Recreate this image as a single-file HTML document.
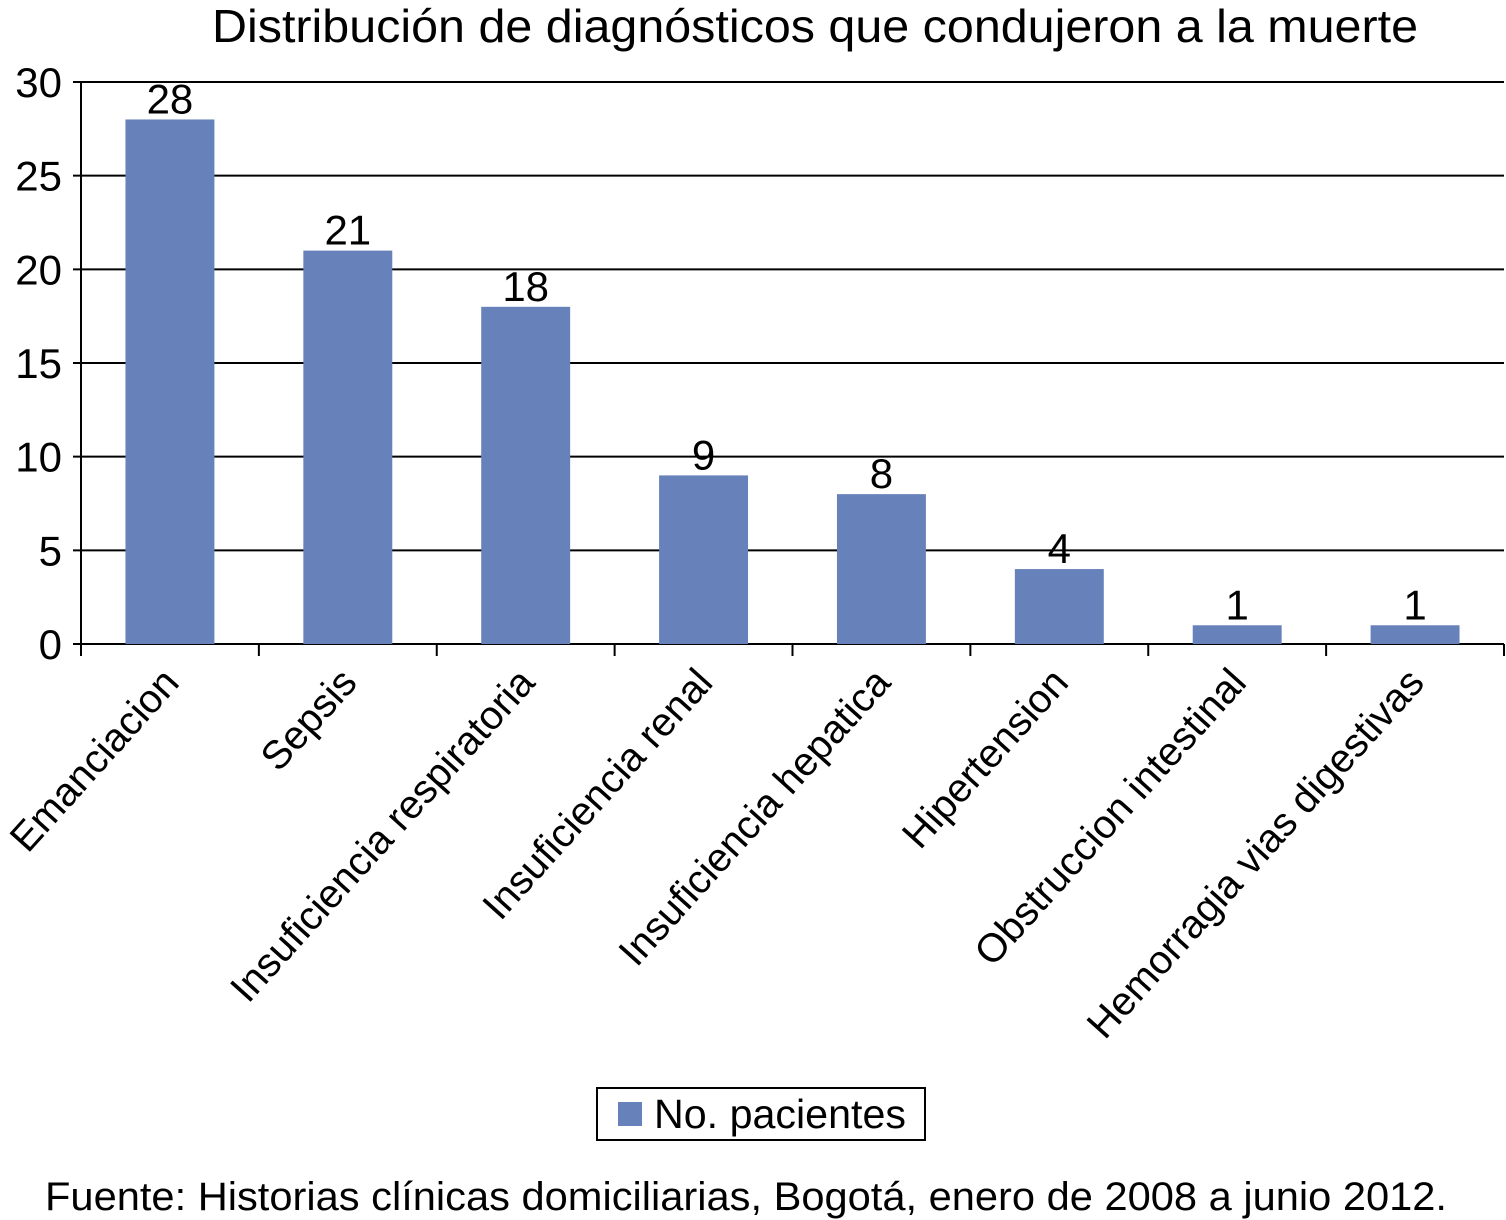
<!DOCTYPE html>
<html><head><meta charset="utf-8"><style>
body{margin:0;background:#fff}
svg{display:block;font-family:"Liberation Sans",Arial,sans-serif}
</style></head><body>
<svg id="chart" width="1506" height="1220" viewBox="0 0 1506 1220">
<text x="815" y="42" font-size="46" text-anchor="middle" textLength="1206" lengthAdjust="spacingAndGlyphs">Distribución de diagnósticos que condujeron a la muerte</text>
<g id="grid"></g><g id="bars"></g><g id="axes"></g>
<g>
<rect x="597" y="1088" width="328" height="52" fill="#fff" stroke="#000" stroke-width="2"/>
<rect x="618" y="1102" width="24" height="24" fill="#6781bb"/>
<text x="654" y="1128" font-size="41" textLength="252" lengthAdjust="spacingAndGlyphs">No. pacientes</text>
</g>
<text x="45" y="1210" font-size="40" textLength="1402" lengthAdjust="spacingAndGlyphs">Fuente: Historias clínicas domiciliarias, Bogotá, enero de 2008 a junio 2012.</text>
</svg>
<script>
const categories=["Emanciacion","Sepsis","Insuficiencia respiratoria","Insuficiencia renal","Insuficiencia hepatica","Hipertension","Obstruccion intestinal","Hemorragia vias digestivas"];
const values=[28,21,18,9,8,4,1,1];
const yTicks=[0,5,10,15,20,25,30];
const NS="http://www.w3.org/2000/svg";
const x0=81,x1=1504,y0=644,y1=82,yMax=30;
const y=v=>y0-(v/yMax)*(y0-y1);
const bw=(x1-x0)/categories.length;
const xc=i=>x0+bw*(i+0.5);
function el(t,a,p,txt){const e=document.createElementNS(NS,t);for(const k in a)e.setAttribute(k,a[k]);if(txt!=null)e.textContent=txt;document.getElementById(p).appendChild(e);return e;}
yTicks.forEach(t=>{
 const l=el("line",{x1:x0-8,x2:x1,y1:y(t),y2:y(t),stroke:"#000","stroke-width":2},"grid");
 
 
 const tx=el("text",{x:62,y:y(t)+15,"font-size":42,"text-anchor":"end"},"axes",t);
 
 
});
values.forEach((v,i)=>{
 const r=el("rect",{x:xc(i)-bw/4,y:y(v),width:bw/2,height:y0-y(v),fill:"#6781bb"},"bars");
 
 
 const t=el("text",{x:xc(i),y:y(v)-6,"font-size":42,"text-anchor":"middle"},"bars",v);
 
 
 const c=el("text",{transform:`translate(${xc(i)+11},${y0+40}) rotate(-48)`,"font-size":40,"text-anchor":"end"},"axes",categories[i]);
 
 
});
for(let i=0;i<=categories.length;i++){
 const tk=el("line",{x1:x0+bw*i,x2:x0+bw*i,y1:y0,y2:y0+12,stroke:"#000","stroke-width":2},"axes");
 
 
}
const ya=el("line",{x1:x0,x2:x0,y1:y1,y2:y0,stroke:"#000","stroke-width":2},"axes");


</script>
</body></html>
